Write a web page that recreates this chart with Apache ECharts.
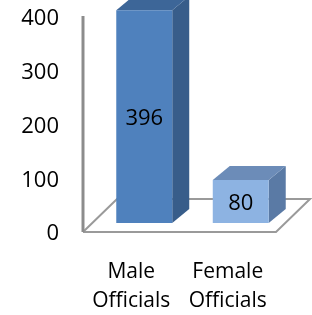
<!DOCTYPE html>
<html>
<head>
<meta charset="utf-8">
<script src="https://cdn.jsdelivr.net/npm/echarts@6/dist/echarts.min.js"></script>
<style>
  html, body { margin: 0; padding: 0; background: #fff; }
  #chart { width: 312px; height: 315px; }
</style>
</head>
<body>
<div id="chart"></div>
<script>
const categories = ['Male\nOfficials', 'Female\nOfficials'];
const officials = [396, 80];
const yTicks = [0, 100, 200, 300, 400];

const frontColors = ['#4F81BD', '#8DB3E2'];
const sideColors = ['#385D8A', '#5A7AA5'];
const topColors = ['#3D6698', '#6C8CB8'];

const FONT = '"Open Sans", "Noto Sans", sans-serif';

// floor + back wall line, taken from the grid rect
function renderFloor(params, api) {
  const cs = params.coordSys;
  const y = api.coord([0, 0])[1] - 2;
  const dx = 34, dy = -33;
  const l = cs.x, r = cs.x + cs.width;
  return {
    type: 'group',
    children: [
      {
        type: 'polyline',
        shape: { points: [[l, y], [l + dx, y + dy], [r + dx, y + dy], [r, y], [l, y]] },
        style: { stroke: '#9A9A9A', lineWidth: 2, fill: null }
      },
      {
        type: 'line',
        shape: { x1: l, y1: cs.y - 3, x2: l, y2: y },
        style: { stroke: '#8C8C8C', lineWidth: 3 }
      }
    ]
  };
}

function renderBar(params, api) {
  const i = api.value(0);
  const v = api.value(1);
  const top = api.coord([i, v]);
  const base = api.coord([i, 0]);
  const w = api.size([1, 0])[0] * 0.58;
  // bars stand about a third of the way back on the floor
  const sx = 13, sy = -11;
  const dx = 17, dy = -14;
  const x0 = top[0] - w / 2 + sx, x1 = x0 + w;
  const y0 = top[1] + sy, y1 = base[1] + sy;
  return {
    type: 'group',
    children: [
      {
        type: 'polygon',
        shape: { points: [[x1, y0], [x1 + dx, y0 + dy], [x1 + dx, y1 + dy], [x1, y1]] },
        style: { fill: sideColors[i] }
      },
      {
        type: 'polygon',
        shape: { points: [[x0, y0], [x0 + dx, y0 + dy], [x1 + dx, y0 + dy], [x1, y0]] },
        style: { fill: topColors[i] }
      },
      {
        type: 'rect',
        shape: { x: x0, y: y0, width: w, height: y1 - y0 },
        style: { fill: frontColors[i] }
      },
      {
        type: 'text',
        style: {
          text: String(v), x: (x0 + x1) / 2, y: (y0 + y1) / 2 + 2,
          align: 'center', verticalAlign: 'middle',
          font: '22px ' + FONT, fill: '#000'
        }
      }
    ]
  };
}

const chart = echarts.init(document.getElementById('chart'), null, { renderer: 'canvas' });
chart.setOption({
  animation: false,
  grid: { left: 83, right: 36, top: 19, bottom: 81, containLabel: false, outerBoundsMode: 'none' },
  xAxis: {
    type: 'category',
    data: categories,
    axisLine: { show: false },
    axisTick: { show: false },
    axisLabel: { interval: 0, color: '#000', fontSize: 21, fontFamily: FONT, lineHeight: 29, margin: 24 }
  },
  yAxis: {
    type: 'value',
    min: yTicks[0],
    max: yTicks[yTicks.length - 1],
    interval: yTicks[1] - yTicks[0],
    axisLine: { show: false },
    axisTick: { show: false },
    splitLine: { show: false },
    axisLabel: { color: '#000', fontSize: 22, fontFamily: FONT, margin: 24 }
  },
  series: [
    {
      type: 'custom',
      renderItem: renderFloor,
      data: [[0, 0]],
      z: 1,
      silent: true
    },
    {
      type: 'custom',
      renderItem: renderBar,
      data: officials.map((v, i) => [i, v]),
      z: 2,
      clip: false
    }
  ]
});
</script>
</body>
</html>
